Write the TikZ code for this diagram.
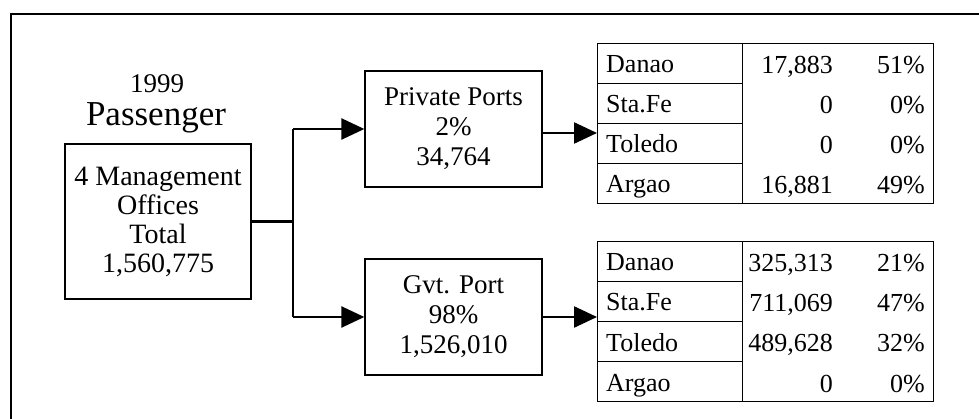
\documentclass[tikz,border=0pt]{standalone}
\usepackage{fontspec}
\setmainfont{Liberation Serif}
\usetikzlibrary{arrows.meta}
\begin{document}
\begin{tikzpicture}[x=1pt,y=-1pt,
  boxstyle/.style={draw, line width=1.3pt, align=center, inner sep=0pt},
  bigtxt/.style={font=\fontsize{28pt}{29pt}\selectfont},
  midtxt/.style={font=\fontsize{27pt}{30pt}\selectfont},
  tabtxt/.style={font=\fontsize{26pt}{27pt}\selectfont},
  cellbox/.style={draw, line width=1.1pt, anchor=north west, minimum width=145pt, minimum height=40pt, inner sep=0pt},
  numbox/.style={draw, line width=1.1pt, anchor=north west, minimum width=191pt, minimum height=160pt, inner sep=0pt},
  nmtxt/.style={anchor=base west, inner sep=0pt, tabtxt},
  numtxt/.style={anchor=base east, inner sep=0pt, tabtxt},
  conn/.style={line width=2.4pt},
  arr/.style={line width=2.4pt, -{Triangle[length=23pt,width=21pt]}}
]
\useasboundingbox (0,0) rectangle (979,419);
% outer frame
\draw[line width=2pt] (10.5,419) -- (10.5,14) -- (979,14);

% title
\node[anchor=base, inner sep=0pt, font=\fontsize{27pt}{29pt}\selectfont] (year) at (157,93) {1999};
\node[anchor=base, inner sep=0pt, text height=24pt, font=\fontsize{35pt}{38pt}\selectfont] (pass) at (156,126) {Passenger};

% main box
\node[boxstyle, bigtxt, minimum width=186pt, minimum height=155pt] (mgmt) at (158,221.5)
  {4 Management\\Offices\\Total\\1,560,775};

% port boxes
\node[boxstyle, midtxt, minimum width=177pt, minimum height=116pt] (priv) at (453.5,129)
  {Private Ports\\2\%\\34,764};
\node[boxstyle, midtxt, minimum width=177pt, minimum height=116pt] (gvt) at (453.5,317)
  {Gvt. Port\\98\%\\1,526,010};

% table 1
\node[cellbox] (pa) at (597,43) {};
\node[cellbox] (pb) at (597,83) {};
\node[cellbox] (pc) at (597,123) {};
\node[cellbox] (pd) at (597,163) {};
\node[numbox] (pn) at (742,43) {};
\node[nmtxt] (pat) at (606,73) {Danao};
\node[nmtxt] (pbt) at (606,113) {Sta.Fe};
\node[nmtxt] (pct) at (606,153) {Toledo};
\node[nmtxt] (pdt) at (606,193) {Argao};
\node[numtxt] (pa1) at (833,74) {17,883};   \node[numtxt] (pa2) at (925,74) {51\%};
\node[numtxt] (pb1) at (833,114) {0};       \node[numtxt] (pb2) at (925,114) {0\%};
\node[numtxt] (pc1) at (833,154) {0};       \node[numtxt] (pc2) at (925,154) {0\%};
\node[numtxt] (pd1) at (833,194) {16,881};  \node[numtxt] (pd2) at (925,194) {49\%};

% table 2
\node[cellbox] (ga) at (597,241) {};
\node[cellbox] (gb) at (597,281) {};
\node[cellbox] (gc) at (597,321) {};
\node[cellbox] (gd) at (597,361) {};
\node[numbox] (gn) at (742,241) {};
\node[nmtxt] (gat) at (606,271) {Danao};
\node[nmtxt] (gbt) at (606,311) {Sta.Fe};
\node[nmtxt] (gct) at (606,351) {Toledo};
\node[nmtxt] (gdt) at (606,391) {Argao};
\node[numtxt] (ga1) at (833,272) {325,313}; \node[numtxt] (ga2) at (925,272) {21\%};
\node[numtxt] (gb1) at (833,312) {711,069}; \node[numtxt] (gb2) at (925,312) {47\%};
\node[numtxt] (gc1) at (833,352) {489,628}; \node[numtxt] (gc2) at (925,352) {32\%};
\node[numtxt] (gd1) at (833,392) {0};       \node[numtxt] (gd2) at (925,392) {0\%};

% connectors
\coordinate (j) at (293,221.5);
\coordinate (jt) at (j |- priv.west);
\coordinate (jb) at (j |- gvt.west);
\draw[conn] (mgmt.east) -- (j);
\draw[conn] (jt) -- (jb);
\draw[arr] (jt) -- (priv.west);
\draw[arr] (jb) -- (gvt.west);
\draw[arr] ([yshift=-4pt]priv.east) -- ([yshift=-4pt]priv.east -| pa.west);
\draw[arr] (gvt.east) -- (gvt.east -| ga.west);
\end{tikzpicture}
\end{document}
